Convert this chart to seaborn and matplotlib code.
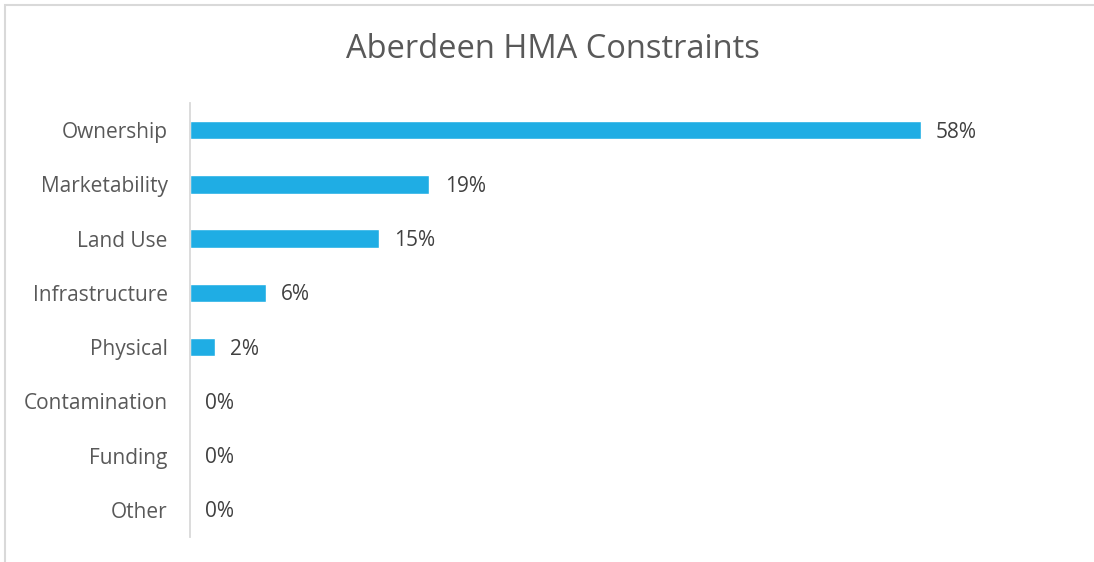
import pandas as pd
import seaborn as sns
import matplotlib.pyplot as plt
from matplotlib.patches import Rectangle

categories = ['Ownership', 'Marketability', 'Land Use', 'Infrastructure',
              'Physical', 'Contamination', 'Funding', 'Other']
shares = [58, 19, 15, 6, 2, 0, 0, 0]

df = pd.DataFrame({'category': categories, 'share': shares})

sns.set_style('white')
plt.rcParams['font.family'] = ['Open Sans', 'DejaVu Sans']

fig = plt.figure(figsize=(10.94, 5.62), dpi=100)
ax = fig.add_axes([190 / 1094, 25 / 562, (1072 - 190) / 1094, (537 - 103) / 562])

sns.barplot(data=df, x='share', y='category', orient='h', color='#1FADE4',
            saturation=1, width=0.34, ax=ax)

ax.set_xlim(0, 70)
ax.set_ylim(len(categories) - 0.5, -0.5)
ax.set_xlabel('')
ax.set_ylabel('')
ax.set_xticks([])
for side in ['top', 'right', 'bottom']:
    ax.spines[side].set_visible(False)
ax.spines['left'].set_color('#D9D9D9')
ax.spines['left'].set_linewidth(1.3)
ax.tick_params(axis='y', length=0, pad=16, labelsize=15, labelcolor='#595959')

for i, v in enumerate(shares):
    ax.annotate(f'{v}%', (v, i), xytext=(11, -1.5), textcoords='offset points',
                va='center', ha='left', fontsize=15, color='#404040')

fig.text(553 / 1094, 1 - 50 / 562, 'Aberdeen HMA Constraints', ha='center',
         va='center', fontsize=23.5, color='#595959')

# chart border (only top and left edges visible in the crop)
fig.patches.append(Rectangle((5 / 1094, -0.1), 1.1, 1 - 5 / 562 + 0.1,
                             transform=fig.transFigure, fill=False,
                             edgecolor='#D9D9D9', linewidth=1.5))

fig.savefig('out.png', dpi=100)
